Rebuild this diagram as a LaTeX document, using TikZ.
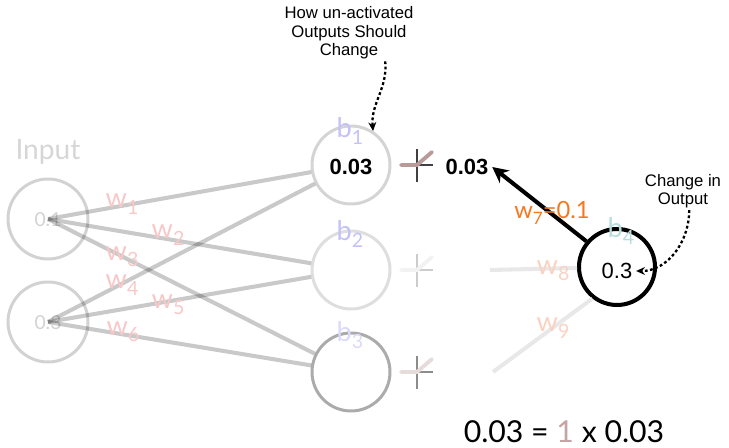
\documentclass[tikz,border=0pt]{standalone}
\usepackage{fontspec}
\setmainfont{Liberation Sans}
\newfontfamily\lato{Lato}
\usetikzlibrary{arrows.meta}
\definecolor{incirc}{HTML}{D2D2D2}
\definecolor{intext}{HTML}{D6D6D6}
\definecolor{hone}{HTML}{D4D4D4}
\definecolor{htwo}{HTML}{DEDEDE}
\definecolor{hthree}{HTML}{ABABAB}
\definecolor{wpink}{HTML}{F8C8C8}
\definecolor{wsalmon}{HTML}{F9D2C2}
\definecolor{worange}{HTML}{F5781E}
\definecolor{blav}{HTML}{C2C2F8}
\definecolor{blavlight}{HTML}{DADAF8}
\definecolor{bteal}{HTML}{B8DCDC}
\definecolor{actbrown}{HTML}{B89A9A}
\definecolor{onebrown}{HTML}{C4A4A4}
\newcommand\wsub[1]{\raisebox{-0.45ex}{\scalebox{0.72}{#1}}}
\newcommand\actsym[4]{%
  \begin{scope}[shift={(#1,#2)}]
    \draw[line width=0.6pt, draw=#3] (-17,0) -- (16,0) (0,-16) -- (0,17);
    \draw[line width=2.2pt, draw=#4, line cap=round] (-16,0) -- (0,0) -- (15,-13);
  \end{scope}}
\begin{document}
\begin{tikzpicture}[x=0.02cm,y=-0.02cm,
  neuron/.style={circle, minimum size=1.56cm, inner sep=0pt, line width=1.7pt},
  conn/.style={line width=2.3pt, draw=black, draw opacity=0.21},
  faintconn/.style={line width=2.3pt, draw=black!9},
  wlab/.style={font=\lato\fontsize{15.5}{15.5}\selectfont, inner sep=0pt},
  blab/.style={font=\lato\fontsize{15.5}{15.5}\selectfont, inner sep=0pt},
  note/.style={font=\fontsize{9.5}{10.5}\selectfont, align=center, inner sep=1pt},
  dotarrow/.style={dash pattern=on 1.6pt off 1.4pt, line width=1.3pt, -{Stealth[length=5pt,width=4.5pt]}},
  valfont/.style={font=\bfseries\fontsize{12.5}{12.5}\selectfont},
]
\path[use as bounding box] (0,0) rectangle (729,448);

% input layer
\node[font=\lato\fontsize{16}{16}\selectfont, text=intext] (inlab) at (48,152) {Input};
\node[neuron, draw=incirc, minimum size=1.6cm] (in1) at (48,219) {};
\node[neuron, draw=incirc, minimum size=1.6cm] (in2) at (48,322) {};
\node[font=\lato\fontsize{11}{11}\selectfont, text=incirc] (t1) at (48,220) {0.1};
\node[font=\lato\fontsize{11}{11}\selectfont, text=incirc] (t2) at (48,323) {0.3};

% hidden layer
\node[neuron, draw=hone] (h1) at (351,165) {};
\node[neuron, draw=htwo] (h2) at (351,270) {};
\node[neuron, draw=hthree] (h3) at (351,372) {};
\node[valfont] (v1) at (351,167) {0.03};

% connections input -> hidden
\draw[conn] (in1.center) -- (h1);
\draw[conn] (in1.center) -- (h2);
\draw[conn] (in1.center) -- (h3);
\draw[conn] (in2.center) -- (h1);
\draw[conn] (in2.center) -- (h2);
\draw[conn] (in2.center) -- (h3);

% weight labels
\node[wlab, text=wpink] (w1) at (122,204) {w\wsub{1}};
\node[wlab, text=wpink] (w2) at (168,235) {w\wsub{2}};
\node[wlab, text=wpink] (w3) at (122,257) {w\wsub{3}};
\node[wlab, text=wpink] (w4) at (122,285) {w\wsub{4}};
\node[wlab, text=wpink] (w5) at (168,305) {w\wsub{5}};
\node[wlab, text=wpink] (w6) at (123,332) {w\wsub{6}};

% bias labels
\node[blab, text=blav] (b1) at (350,131) {b\wsub{1}};
\node[blab, text=blav] (b2) at (350,234) {b\wsub{2}};
\node[blab, text=blavlight] (b3) at (350,335) {b\wsub{3}};

% activation symbols
\actsym{417}{165}{black!75}{actbrown}
\actsym{417}{270}{black!20}{black!5}
\actsym{417}{372}{black!45}{actbrown!35}

\node[valfont, inner sep=2pt] (val1) at (467,167) {0.03};

% output neuron
\node[neuron, draw=black, line width=2.3pt, minimum size=1.52cm] (out) at (617,267) {};
\node[blab, text=bteal] (b4) at (621,231) {b\wsub{4}};
\node[font=\fontsize{12.5}{12.5}\selectfont, inner sep=2pt] (outv) at (617,271) {0.3};

\coordinate (a8) at (490,270);
\coordinate (a9) at (493,372);
\draw[faintconn] (a8) -- (out);
\draw[faintconn] (a9) -- (out.232);
\node[wlab, text=wsalmon] (w8) at (553,271) {w\wsub{8}};
\node[wlab, text=wsalmon] (w9) at (553,328) {w\wsub{9}};

\draw[line width=2.3pt, -{Stealth[length=9pt,width=9pt]}] (out.140) -- (val1.east);
\node[wlab, text=worange, font=\lato\fontsize{13.5}{13.5}\selectfont] (w7) at (552,213) {w\wsub{7}=0.1};

% annotations
\node[note] (note1) at (349,33) {How un-activated\\Outputs Should\\Change};
\draw[dotarrow] (note1.-38) to[out=-85,in=95] (h1.57);
\node[note] (note2) at (683,191) {Change in\\Output};
\draw[dotarrow] (note2.-72) to[out=-90,in=0] (outv.east);

% formula
\node[font=\lato\fontsize{17.2}{17.2}\selectfont] (formula) at (564,432) {0.03 = {\color{onebrown}1} x 0.03};
\end{tikzpicture}
\end{document}
